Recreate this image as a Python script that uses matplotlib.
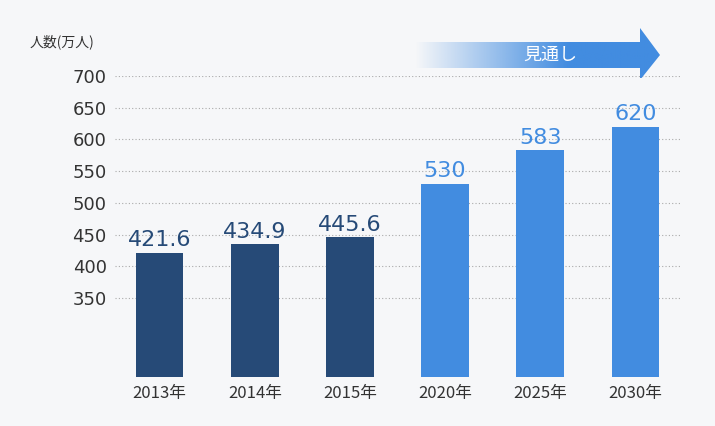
import matplotlib
matplotlib.use("Agg")
import matplotlib.pyplot as plt
import numpy as np
from matplotlib.patches import Polygon

plt.rcParams['font.family'] = ['Noto Sans CJK JP', 'DejaVu Sans']

years = ["2013年", "2014年", "2015年", "2020年", "2025年", "2030年"]
values = [421.6, 434.9, 445.6, 530, 583, 620]
labels = ["421.6", "434.9", "445.6", "530", "583", "620"]
ticks = [350, 400, 450, 500, 550, 600, 650, 700]

bg = "#f6f7f9"
dark = "#264a77"
light = "#428ce0"

fig = plt.figure(figsize=(7.15, 4.26), dpi=100, facecolor=bg)
ax = fig.add_axes([115/715, 1-377/426, 565/715, (377-76)/426])
ax.set_facecolor(bg)
x = np.arange(len(years))
colors = [dark]*3 + [light]*3
ax.bar(x, values, width=0.5, color=colors, zorder=3)
for xi, v, l, c in zip(x, values, labels, colors):
    ax.text(xi, v + 4, l, ha="center", va="bottom", color=c, fontsize=16, family=["DejaVu Sans"])
ax.set_xlim(-0.47, 5.47)
ax.set_ylim(225.4, 700)
ax.set_yticks(ticks)
ax.set_yticklabels([str(t) for t in ticks], fontsize=13, color="#333333", family=["DejaVu Sans"])
ax.yaxis.grid(True, linestyle=(0, (1, 2)), color="#aaaaaa", linewidth=0.8, zorder=0)
ax.set_xticks(x)
ax.set_xticklabels(years, fontsize=12, color="#333333")
ax.tick_params(length=0, pad=6)
for s in ax.spines.values():
    s.set_visible(False)

fig.text(30/715, 1-42/426, "人数(万人)", fontsize=10, color="#333333", va="center")

# gradient arrow
ax2 = fig.add_axes([0, 0, 1, 1], facecolor="none")
ax2.set_xlim(0, 715); ax2.set_ylim(426, 0); ax2.axis("off")
grad = np.linspace(0, 1, 256)
rgba = np.zeros((1, 256, 4))
rgba[..., :3] = matplotlib.colors.to_rgb(light)
rgba[..., 3] = np.clip(grad*1.6, 0, 1)
im = ax2.imshow(rgba, extent=[415, 660, 78, 28], aspect="auto", zorder=5)
poly = Polygon([(415, 42), (640, 42), (640, 28), (660, 55), (640, 80), (640, 68), (415, 68)],
               closed=True, transform=ax2.transData, facecolor="none", edgecolor="none")
ax2.add_patch(poly)
im.set_clip_path(poly)
ax2.text(550, 55, "見通し", color="white", fontsize=13, ha="center", va="center", zorder=6)

fig.savefig("out.png", dpi=100, facecolor=bg)
